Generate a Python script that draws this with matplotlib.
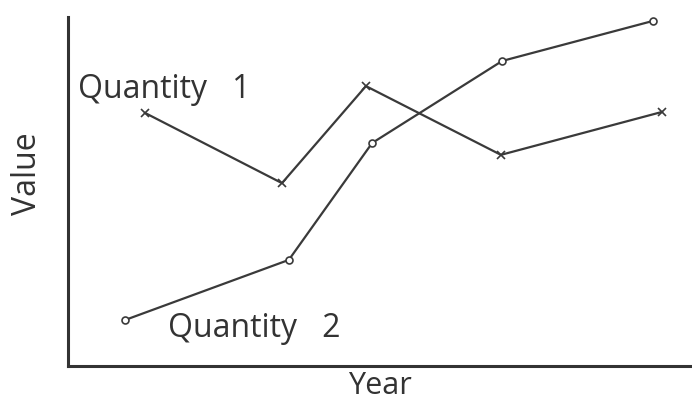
import matplotlib
matplotlib.use('Agg')
import matplotlib.pyplot as plt

# data (arbitrary units, axes 0..10)
q1_x = [1.24, 3.44, 4.79, 6.96, 9.55]
q1_y = [7.25, 5.24, 8.02, 6.05, 7.28]
q2_x = [0.92, 3.55, 4.89, 6.98, 9.41]
q2_y = [1.32, 3.04, 6.39, 8.74, 9.89]

W, H = 692, 403
fig = plt.figure(figsize=(W / 100, H / 100), dpi=100)
ax = fig.add_axes([68 / W, (H - 366) / H, (690 - 68) / W, (366 - 17) / H])

col = '#3a3a3a'
ax.plot(q1_x, q1_y, color=col, lw=1.6, marker='x', ms=6, mew=1.2, clip_on=False)
ax.plot(q2_x, q2_y, color=col, lw=1.6, marker='o', ms=5, mew=1.2,
        mfc='white', clip_on=False)

ax.set_xlim(0, 10)
ax.set_ylim(0, 10)
ax.set_xticks([])
ax.set_yticks([])
for s in ['top', 'right']:
    ax.spines[s].set_visible(False)
for s in ['left', 'bottom']:
    ax.spines[s].set_linewidth(2.2)
    ax.spines[s].set_color('#333333')

font = 'Open Sans'
tc = '#333333'
ax.text(0.16, 7.68, 'Quantity   1', fontsize=23, family=font, color=tc,
        va='baseline', ha='left')
ax.text(1.61, 0.83, 'Quantity   2', fontsize=23, family=font, color=tc,
        va='baseline', ha='left')
fig.text(380 / W, 1 - 394 / H, 'Year', fontsize=22, family=font,
         color=tc, ha='center', va='baseline')
fig.text(28 / W, 1 - 174 / H, 'Value', fontsize=23, family=font,
         color=tc, ha='center', va='center', rotation=90)

fig.savefig('out.png', dpi=100)
